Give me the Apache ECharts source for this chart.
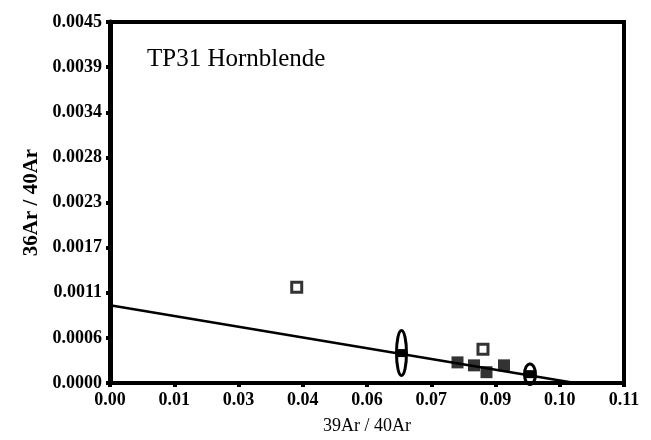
<!DOCTYPE html>
<html>
<head>
<meta charset="utf-8">
<script src="https://cdn.jsdelivr.net/npm/echarts@6/dist/echarts.min.js"></script>
<style>
html,body{margin:0;padding:0;background:#fff;}
#chart{width:651px;height:440px;}
</style>
</head>
<body>
<div id="chart"></div>
<script>
// ---- data ----
var xTickLabels = ['0.00','0.01','0.03','0.04','0.06','0.07','0.09','0.10','0.11'];
var yTickLabels = ['0.0000','0.0006','0.0011','0.0017','0.0023','0.0028','0.0034','0.0039','0.0045'];
var filledPoints = [[0.07437,0.000257],[0.0779,0.00022],[0.08057,0.000135],[0.08432,0.00022]];
var openPoints = [[0.03996,0.001195],[0.07982,0.000422]];
// [x, y, halfWidthX, halfHeightY]
var ellipsePoints = [[0.06238,0.000373,0.00107,0.000281],[0.08988,0.00011,0.00118,0.000128]];
var regressionLine = [[0,0.00097],[0.0995,0]];
var titleText = 'TP31 Hornblende';
var xName = '39Ar / 40Ar';
var yName = '36Ar / 40Ar';

var xMax = 0.11, xInt = xMax / 8;
var yMax = 0.0045, yInt = yMax / 8;
var font = '"Liberation Serif","DejaVu Serif",serif';

var chart = echarts.init(document.getElementById('chart'));
chart.setOption({
  animation: false,
  backgroundColor: '#fff',
  title: {
    text: titleText, left: 142, top: 42,
    textStyle: {fontFamily: font, fontSize: 25, fontWeight: 'normal', color: '#000'}
  },
  grid: {left: 110, right: 27, top: 22, bottom: 50, show: true, borderColor: '#000', borderWidth: 4},
  xAxis: {
    type: 'value', min: 0, max: xMax, interval: xInt,
    name: xName, nameLocation: 'middle', nameGap: 34,
    nameTextStyle: {fontFamily: font, fontSize: 18, color: '#000'},
    axisLine: {show: true, onZero: false, lineStyle: {color: '#000', width: 4}},
    axisTick: {show: true, length: 4, lineStyle: {color: '#000', width: 4}},
    splitLine: {show: false},
    axisLabel: {
      fontFamily: font, fontSize: 18, fontWeight: 'bold', color: '#000', margin: 8,
      formatter: function (v) { return xTickLabels[Math.round(v / xInt)]; }
    }
  },
  yAxis: {
    type: 'value', min: 0, max: yMax, interval: yInt,
    name: yName, nameLocation: 'middle', nameGap: 60, nameRotate: 90,
    nameTextStyle: {fontFamily: font, fontSize: 21, fontWeight: 'bold', color: '#000'},
    axisLine: {show: true, onZero: false, lineStyle: {color: '#000', width: 5}},
    axisTick: {show: true, length: 4, lineStyle: {color: '#000', width: 4}},
    splitLine: {show: false},
    axisLabel: {
      fontFamily: font, fontSize: 18, fontWeight: 'bold', color: '#000', margin: 8,
      formatter: function (v) { return yTickLabels[Math.round(v / yInt)]; }
    }
  },
  series: [
    {
      type: 'line', data: regressionLine, showSymbol: false, symbol: 'none',
      lineStyle: {color: '#000', width: 2.5}, z: 2
    },
    {
      type: 'scatter', data: filledPoints, symbol: 'rect', symbolSize: 12,
      itemStyle: {color: '#000'}, z: 3
    },
    {
      type: 'scatter', data: openPoints, symbol: 'rect', symbolSize: 10,
      itemStyle: {color: '#fff', borderColor: '#000', borderWidth: 3}, z: 3
    },
    {
      type: 'custom', data: ellipsePoints, z: 4,
      renderItem: function (params, api) {
        var c = api.coord([api.value(0), api.value(1)]);
        var s = api.size([api.value(2), api.value(3)]);
        return {
          type: 'group',
          children: [
            {type: 'ellipse', shape: {cx: c[0], cy: c[1], rx: s[0], ry: s[1]},
             style: {fill: 'none', stroke: '#000', lineWidth: 3}},
            {type: 'rect', shape: {x: c[0] - 4, y: c[1] - 4, width: 8, height: 8},
             style: {fill: '#000'}}
          ]
        };
      }
    }
  ]
});
</script>
</body>
</html>
